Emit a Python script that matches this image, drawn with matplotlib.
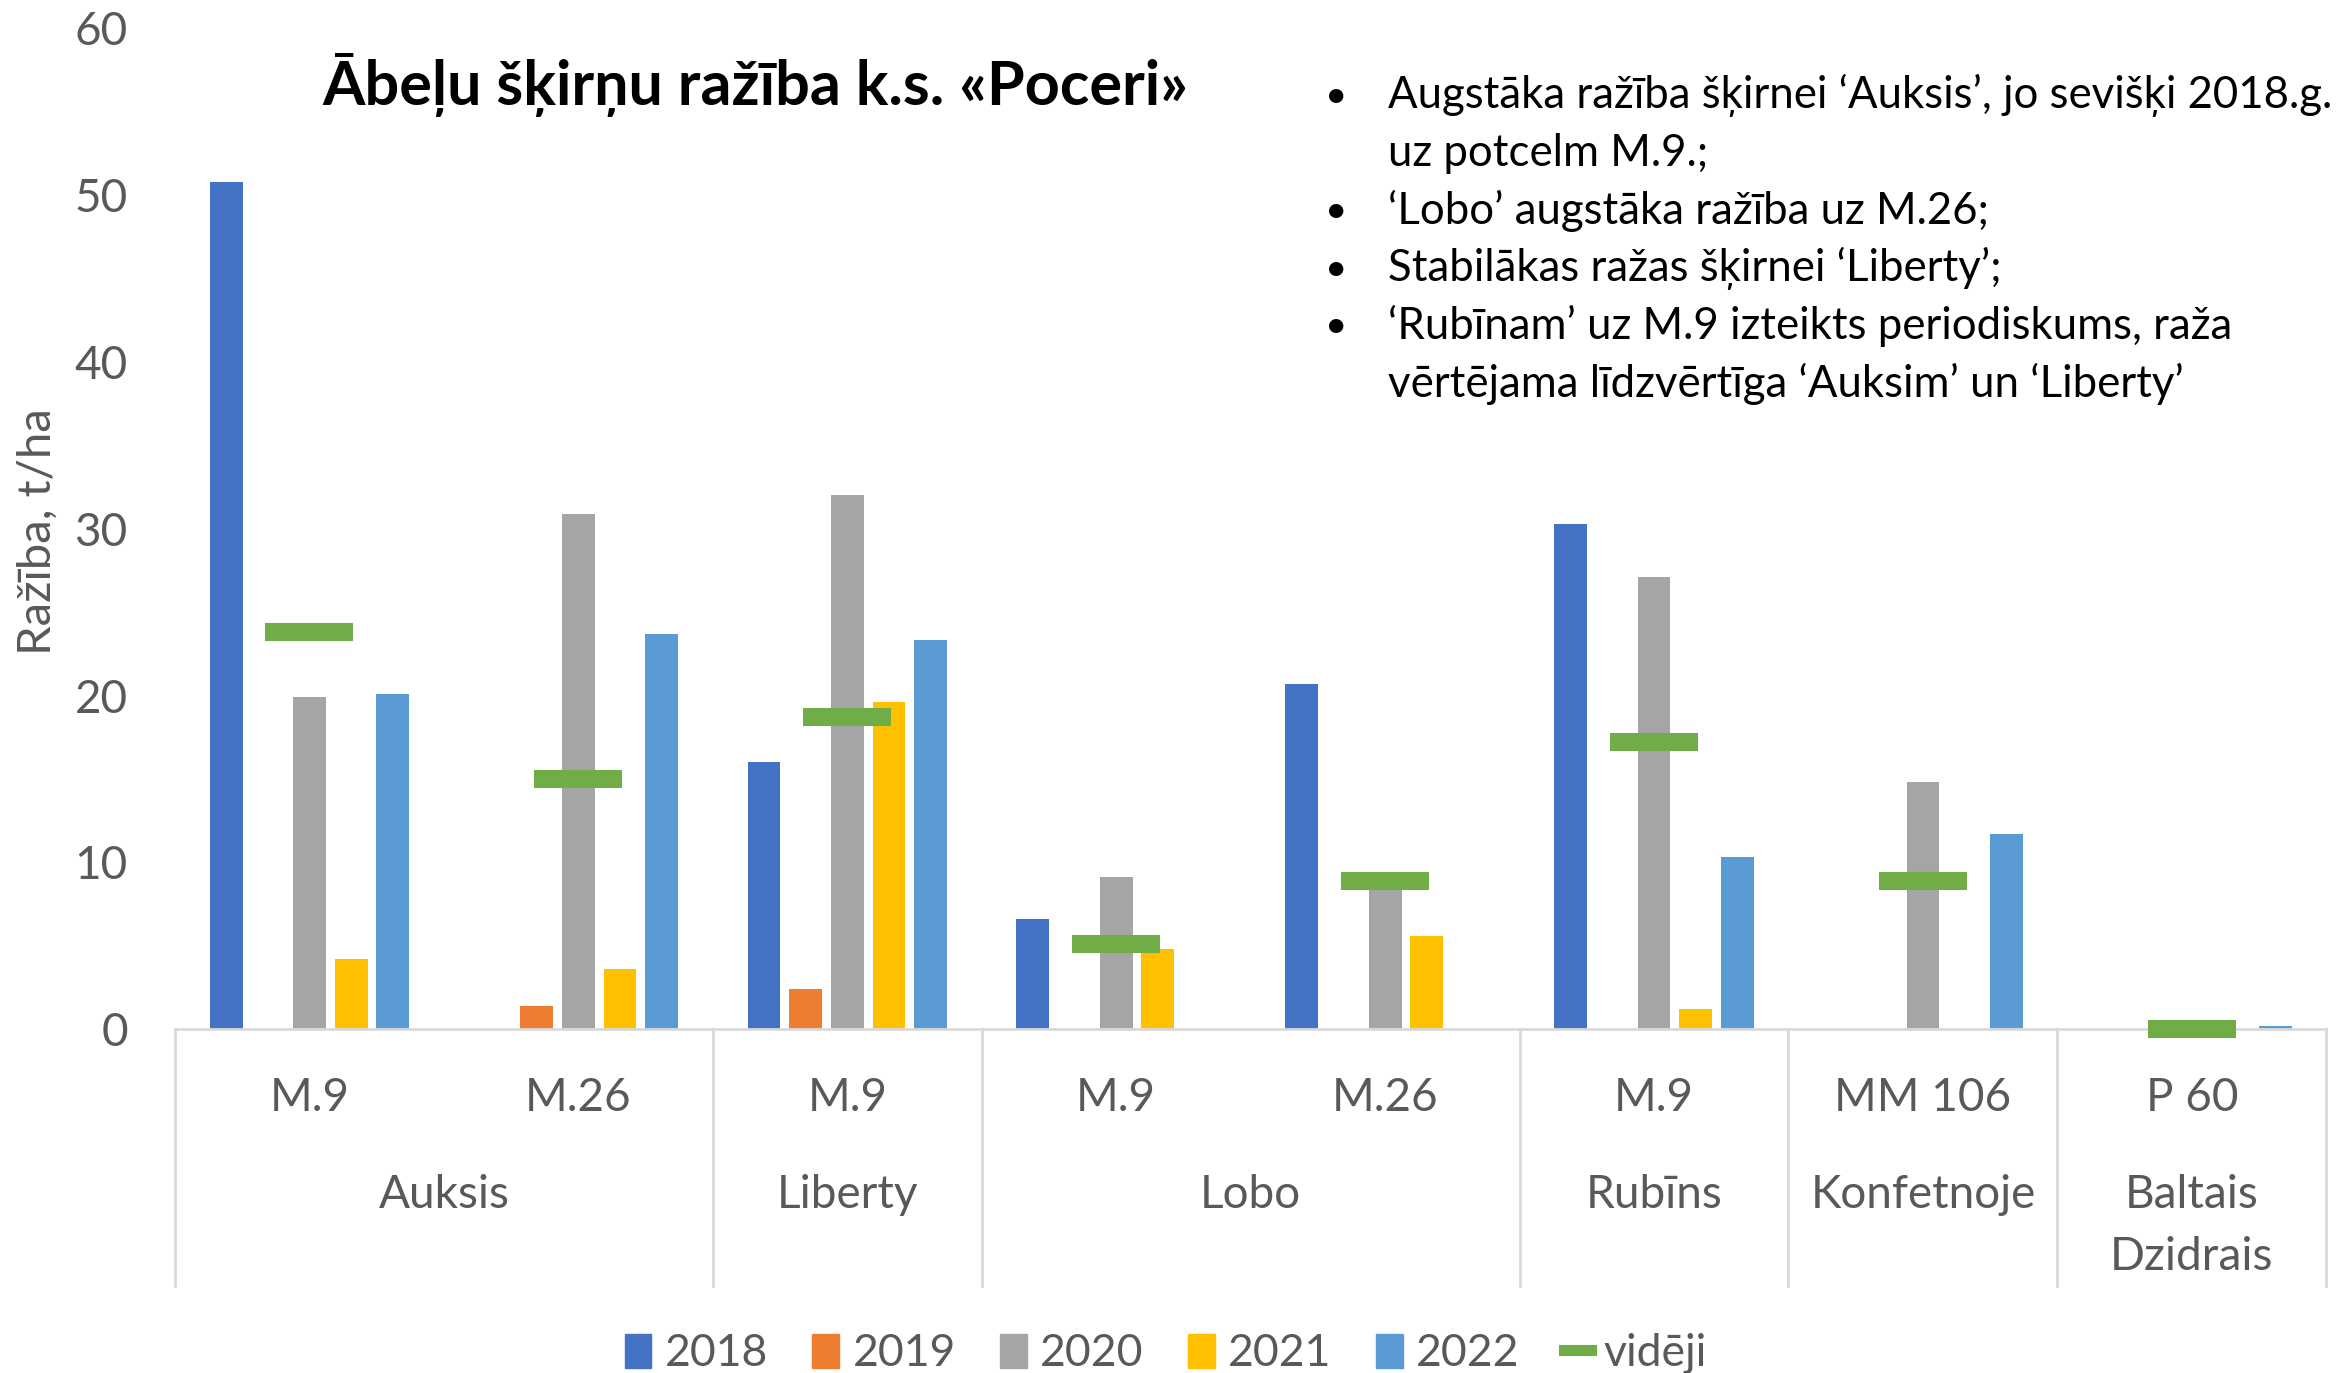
import matplotlib
matplotlib.use("Agg")
import matplotlib.pyplot as plt
import matplotlib.transforms as mtransforms
from matplotlib.patches import Patch
from matplotlib.lines import Line2D
import numpy as np

plt.rcParams['font.family'] = ['Lato', 'DejaVu Sans']

nan = np.nan

# data (t/ha)
rootstocks = ['M.9', 'M.26', 'M.9', 'M.9', 'M.26', 'M.9', 'MM 106', 'P 60']
groups = ['Auksis', 'Liberty', 'Lobo', 'Rubīns', 'Konfetnoje', 'Baltais\nDzidrais']
group_sizes = [2, 1, 2, 1, 1, 1]
years = ['2018', '2019', '2020', '2021', '2022']
y2018 = [50.8, nan, 16.0, 6.6, 20.7, 30.3, nan, nan]
y2019 = [nan, 1.4, 2.4, nan, nan, nan, nan, nan]
y2020 = [19.9, 30.9, 32.0, 9.1, 8.6, 27.1, 14.8, nan]
y2021 = [4.2, 3.6, 19.6, 4.8, 5.6, 1.2, nan, nan]
y2022 = [20.1, 23.7, 23.3, nan, nan, 10.3, 11.7, 0.2]
avg = [23.8, 15.0, 18.7, 5.1, 8.9, 17.2, 8.9, 0.0]

colors = ['#4472C4', '#ED7D31', '#A5A5A5', '#FFC000', '#5B9BD5']
green = '#70AD47'
grey_txt = '#595959'

bullets = [
    'Augstāka ražība šķirnei ‘Auksis’, jo sevišķi 2018.g.\nuz potcelm M.9.;',
    '‘Lobo’ augstāka ražība uz M.26;',
    'Stabilākas ražas šķirnei ‘Liberty’;',
    '‘Rubīnam’ uz M.9 izteikts periodiskums, raža\nvērtējama līdzvērtīga ‘Auksim’ un ‘Liberty’',
]

fig = plt.figure(figsize=(23.46, 13.73), dpi=100)
ax = fig.add_axes([0.0746, 0.2505, 0.917, 0.7288])

x = np.arange(len(rootstocks))
step = 0.155
width = 0.122
series = [y2018, y2019, y2020, y2021, y2022]
for j, vals in enumerate(series):
    ax.bar(x + (j - 2) * step, vals, width, color=colors[j], zorder=2)

ax.plot(x, avg, linestyle='none', marker='_', markersize=63,
        markeredgewidth=13, color=green, zorder=3, clip_on=False)

ax.set_xlim(-0.5, len(rootstocks) - 0.5)
ax.set_ylim(0, 60)
ax.set_yticks(range(0, 61, 10))
ax.tick_params(axis='y', length=0, pad=34, labelsize=33, labelcolor=grey_txt)
ax.set_xticks([])
for s in ['top', 'right', 'left']:
    ax.spines[s].set_visible(False)
ax.spines['bottom'].set_color('#D9D9D9')
ax.spines['bottom'].set_linewidth(2)

trans = mtransforms.blended_transform_factory(ax.transData, ax.transAxes)

# rootstock labels
for i, lab in enumerate(rootstocks):
    ax.text(i, -0.069, lab, transform=trans, ha='center', va='center',
            fontsize=33, color=grey_txt)

# group labels and separators
start = 0
bounds = [-0.5]
for g, n in zip(groups, group_sizes):
    centre = start + (n - 1) / 2
    for k, line in enumerate(g.split('\n')):
        ax.text(centre, -0.166 - k * 0.0615, line, transform=trans,
                ha='center', va='center', fontsize=33, color=grey_txt)
    start += n
    bounds.append(start - 0.5)
for b in bounds:
    ax.plot([b, b], [0, -0.257], transform=trans, color='#D9D9D9',
            linewidth=2, clip_on=False)

fig.text(0.0160, 0.613, 'Ražība, t/ha', rotation=90, ha='center', va='center',
         fontsize=34, color=grey_txt)

fig.text(0.322, 0.938, 'Ābeļu šķirņu ražība k.s. «Poceri»', ha='center',
         va='center', fontsize=44, fontweight='bold', color='black')

# bullet notes
line_h = 0.042
yy = 1 - 64 / 918
for b in bullets:
    fig.text(0.5695, yy, '•', ha='center', va='center', fontsize=28)
    for line in b.split('\n'):
        fig.text(0.5918, yy, line, ha='left', va='center', fontsize=31.5)
        yy -= line_h

handles = [Patch(color=c) for c in colors]
handles.append(Line2D([0], [0], color=green, linewidth=8))
fig.legend(handles, years + ['vidēji'], loc='center', bbox_to_anchor=(0.497, 0.014),
           ncol=6, frameon=False, fontsize=32, labelcolor=grey_txt,
           handlelength=0.6, handleheight=0.8, handletextpad=0.3, columnspacing=1.0)

fig.savefig('out.png', dpi=100)
